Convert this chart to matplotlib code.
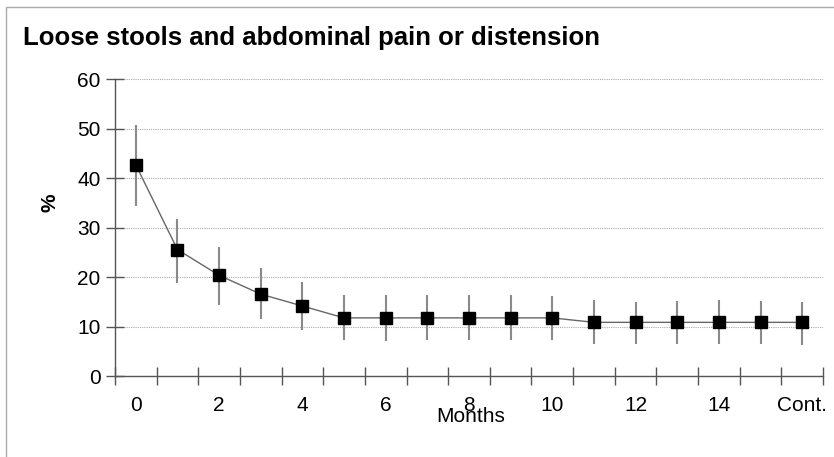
import matplotlib.pyplot as plt
import numpy as np
from matplotlib.patches import Rectangle

plt.rcParams['font.family'] = ['Liberation Sans', 'DejaVu Sans']

tick_labels = ['0', '', '2', '', '4', '', '6', '', '8', '', '10', '', '12', '', '14', '', 'Cont.']
pct = [42.7, 25.6, 20.4, 16.6, 14.2, 11.8, 11.8, 11.8, 11.8, 11.8, 11.8,
       10.9, 10.9, 10.9, 10.9, 10.9, 10.9]
err_hi = [50.8, 31.7, 26.2, 21.8, 19.1, 16.4, 16.4, 16.4, 16.4, 16.4, 16.3,
          15.5, 15.0, 15.2, 15.5, 15.3, 15.1]
err_lo = [34.5, 18.9, 14.4, 11.6, 9.4, 7.4, 7.2, 7.3, 7.3, 7.3, 7.3,
          6.6, 6.6, 6.6, 6.5, 6.6, 6.4]

x = np.arange(len(pct))
pct = np.array(pct)
yerr = [pct - np.array(err_lo), np.array(err_hi) - pct]

fig = plt.figure(figsize=(8.34, 4.57), dpi=100)
fig.patches.append(Rectangle((6 / 834, -0.1), 1.2, (457 - 7) / 457 + 0.1,
                             transform=fig.transFigure, fill=False,
                             edgecolor='#aaaaaa', linewidth=1))

ax = fig.add_axes([115 / 834, 80.7 / 457, (823 - 115) / 834, 297 / 457])

ax.errorbar(x, pct, yerr=yerr, fmt='none', ecolor='#8a8a8a', elinewidth=1.5,
            capsize=0, zorder=2)
ax.plot(x, pct, color='#666666', linewidth=1, zorder=3)
ax.plot(x, pct, 's', color='black', markersize=8, zorder=4)

ax.set_xlim(-0.5, 16.5)
ax.set_ylim(0, 60)
ax.set_yticks(range(0, 61, 10))
ax.set_xticks(x)
ax.set_xticklabels(tick_labels)
ax.set_xticks(np.arange(-0.5, 17, 1), minor=True)
ax.tick_params(axis='x', which='major', length=0, pad=14.5, labelsize=15)
ax.tick_params(axis='x', which='minor', direction='inout', length=13,
               color='#555555', width=1)
ax.tick_params(axis='y', direction='inout', length=13, color='#555555',
               width=1, labelsize=15, pad=4)

ax.yaxis.grid(True, linestyle=(0, (1, 1)), color='#aaaaaa', linewidth=0.8)
ax.set_axisbelow(True)
for s in ['top', 'right']:
    ax.spines[s].set_visible(False)
for s in ['left', 'bottom']:
    ax.spines[s].set_color('#555555')
    ax.spines[s].set_linewidth(1)

fig.text(471 / 834, 1 - 416 / 457, 'Months', ha='center', va='center', fontsize=15)
fig.text(50 / 834, 1 - 203 / 457, '%', ha='center', va='center', fontsize=15,
         fontweight='bold', rotation=90)
fig.text(23 / 834, 1 - 38 / 457, 'Loose stools and abdominal pain or distension',
         ha='left', va='center', fontsize=18.5, fontweight='bold')

fig.savefig('out.png', dpi=100)
